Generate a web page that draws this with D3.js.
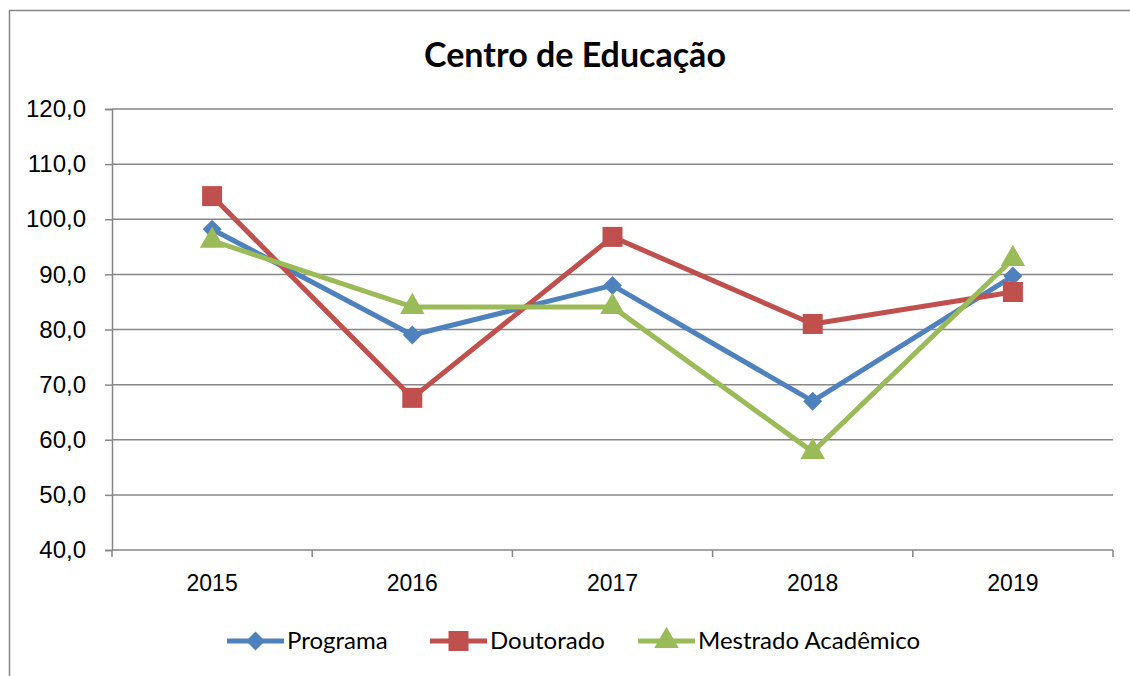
<!DOCTYPE html>
<html>
<head>
<meta charset="utf-8">
<script src="https://cdn.jsdelivr.net/npm/d3@7"></script>
<style>
  body { margin: 0; background: #fff; overflow: hidden; }
  svg { font-family: Lato, 'Open Sans', sans-serif; display: block; }
</style>
</head>
<body>
<script>
let years = ['2015', '2016', '2017', '2018', '2019']
let programa = [98.2, 79.0, 88.0, 67.0, 89.7]
let doutorado = [104.2, 67.6, 96.8, 81.0, 86.8]
let mestrado = [96.1, 84.1, 84.1, 57.8, 92.8]
let yTicks = [40, 50, 60, 70, 80, 90, 100, 110, 120]

let series = [
    { name: 'Programa', values: programa, color: '#4F81BD', symbol: 'diamond' },
    { name: 'Doutorado', values: doutorado, color: '#C0504D', symbol: 'square' },
    { name: 'Mestrado Acadêmico', values: mestrado, color: '#9BBB59', symbol: 'triangle' }
]

let width = 1130
let height = 676
let plotLeft = 112, plotRight = 1113, plotTop = 109, plotBottom = 550

let svg = d3.select('body').append('svg')
    .attr('width', width)
    .attr('height', height)

// outer frame (cropped on right/bottom)
svg.append('path')
    .attr('d', `M9.5,${height}V10.5H${width}`)
    .attr('fill', 'none')
    .attr('stroke', '#868686')
    .attr('stroke-width', 1.5)

svg.append('text')
    .attr('x', 575).attr('y', 67)
    .attr('text-anchor', 'middle')
    .style('font-size', '34px')
    .style('font-weight', 'bold')
    .text('Centro de Educação')

let xScale = d3.scaleBand().domain(years).range([plotLeft, plotRight])
let yScale = d3.scaleLinear().domain([40, 120]).range([plotBottom, plotTop])

// grid
svg.append('g')
    .selectAll('line')
    .data(yTicks.slice(1))
    .enter()
    .append('line')
    .attr('x1', plotLeft).attr('x2', plotRight)
    .attr('y1', d => yScale(d)).attr('y2', d => yScale(d))
    .attr('stroke', '#868686')
    .attr('stroke-width', 1.5)

let yAxis = d3.axisLeft(yScale)
    .tickValues(yTicks)
    .tickSize(7)
    .tickPadding(19)
    .tickFormat(d => d3.format('.1f')(d).replace('.', ','))

let gy = svg.append('g')
    .attr('transform', `translate(${plotLeft}, 0)`)
    .call(yAxis)
gy.select('.domain').attr('stroke', '#868686').attr('stroke-width', 1.5)
gy.selectAll('.tick line').attr('stroke', '#868686').attr('stroke-width', 1.5)
gy.selectAll('.tick text').style('font-size', '24px').attr('fill', '#000')

let xAxis = d3.axisBottom(xScale).tickSize(0).tickPadding(25)
let gx = svg.append('g')
    .attr('transform', `translate(0, ${plotBottom})`)
    .call(xAxis)
gx.select('.domain').remove()
gx.selectAll('.tick text').style('font-size', '23px').attr('fill', '#000')
gx.append('line')
    .attr('x1', plotLeft).attr('x2', plotRight)
    .attr('stroke', '#868686').attr('stroke-width', 1.5)
gx.selectAll('.bound')
    .data(years.concat(['end']))
    .enter()
    .append('line')
    .attr('x1', (d, i) => plotLeft + i * xScale.bandwidth())
    .attr('x2', (d, i) => plotLeft + i * xScale.bandwidth())
    .attr('y1', 0).attr('y2', 7)
    .attr('stroke', '#868686').attr('stroke-width', 1.5)

let symbolOf = s => {
    if (s === 'diamond') return d3.symbol().type(d3.symbolDiamond2).size(230)
    if (s === 'square') return d3.symbol().type(d3.symbolSquare).size(400)
    return d3.symbol().type(d3.symbolTriangle).size(260)
}

let line = d3.line()
    .x((d, i) => xScale(years[i]) + xScale.bandwidth() / 2)
    .y(d => yScale(d))

series.forEach(s => {
    svg.append('path')
        .datum(s.values)
        .attr('d', line)
        .attr('fill', 'none')
        .attr('stroke', s.color)
        .attr('stroke-width', 5)
        .attr('stroke-linejoin', 'round')
    svg.append('g')
        .selectAll('path')
        .data(s.values)
        .enter()
        .append('path')
        .attr('d', symbolOf(s.symbol))
        .attr('transform', (d, i) =>
            `translate(${xScale(years[i]) + xScale.bandwidth() / 2}, ${yScale(d)})`)
        .attr('fill', s.color)
})

// legend
let legendX = [227, 430, 638]
series.forEach((s, i) => {
    let g = svg.append('g').attr('transform', `translate(${legendX[i]}, 641)`)
    g.append('line')
        .attr('x1', 0).attr('x2', 57)
        .attr('stroke', s.color).attr('stroke-width', 5)
    g.append('path')
        .attr('d', symbolOf(s.symbol))
        .attr('transform', 'translate(28.5, 0)')
        .attr('fill', s.color)
    g.append('text')
        .attr('x', 60).attr('y', 8)
        .style('font-size', '24px')
        .text(s.name)
})
</script>
</body>
</html>
